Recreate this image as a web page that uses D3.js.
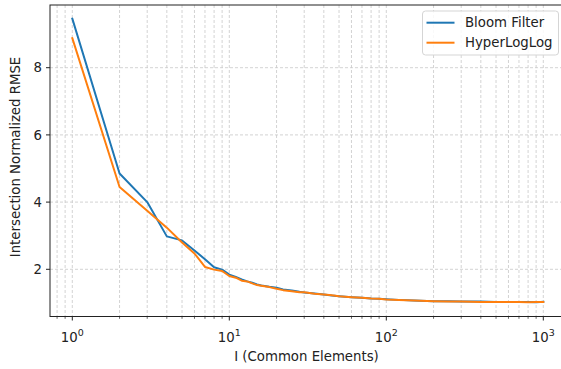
<!DOCTYPE html>
<html>
<head>
<meta charset="utf-8">
<script src="https://cdn.jsdelivr.net/npm/d3@7"></script>
<style>
  html, body { margin: 0; padding: 0; background: #fff; }
  svg { display: block; font-family: "DejaVu Sans", sans-serif; }
</style>
</head>
<body>
<svg id="chart" width="561" height="369"></svg>
<script>
// ---- data ----
const xValues = [1,2,3,4,5,6,7,8,9,10,11,12,13,14,15,16,18,20,22,25,28,30,35,40,45,50,60,70,80,90,100,120,150,200,250,300,400,500,600,700,800,900,1000];
const bloomFilter = [9.46,4.85,4.00,2.98,2.86,2.56,2.30,2.06,1.99,1.84,1.77,1.70,1.64,1.60,1.55,1.52,1.48,1.45,1.40,1.37,1.33,1.31,1.28,1.25,1.22,1.20,1.17,1.15,1.13,1.12,1.11,1.09,1.07,1.05,1.05,1.04,1.04,1.03,1.03,1.03,1.03,1.02,1.03];
const hyperLogLog = [8.88,4.45,3.74,3.24,2.80,2.47,2.07,1.99,1.95,1.80,1.75,1.66,1.64,1.58,1.53,1.51,1.47,1.42,1.38,1.35,1.32,1.32,1.27,1.25,1.23,1.20,1.17,1.15,1.13,1.12,1.10,1.09,1.07,1.05,1.04,1.04,1.03,1.03,1.03,1.03,1.02,1.03,1.03];
const seriesNames = ["Bloom Filter", "HyperLogLog"];
const seriesColors = ["#1f77b4", "#ff7f0e"];
const xTickExps = [0, 1, 2, 3];
const yTicks = [2, 4, 6, 8];
const xLabel = "I (Common Elements)";
const yLabel = "Intersection Normalized RMSE";

// ---- layout ----
const svg = d3.select("#chart");
const frame = { left: 50, right: 566, top: 5, bottom: 316.5 };
const x = d3.scaleLog().domain([1, 1000]).range([72.3, 543.3]);
const y = d3.scaleLinear().domain([2, 8]).range([269.3, 67.7]);

// clip
svg.append("defs").append("clipPath").attr("id", "clip")
  .append("rect").attr("x", frame.left).attr("y", frame.top)
  .attr("width", frame.right - frame.left).attr("height", frame.bottom - frame.top);

const grid = svg.append("g").attr("clip-path", "url(#clip)");
// x grid: major + minor
const xGridVals = [];
for (let e = -1; e <= 3; e++) {
  for (let m = 1; m <= 9; m++) {
    const v = m * Math.pow(10, e);
    const px = x(v);
    if (px > frame.left && px < frame.right) xGridVals.push(v);
  }
}
grid.selectAll("line.xg").data(xGridVals).enter().append("line")
  .attr("x1", d => x(d)).attr("x2", d => x(d))
  .attr("y1", frame.top).attr("y2", frame.bottom)
  .attr("stroke", "#c8c8c8").attr("stroke-width", 0.8)
  .attr("stroke-dasharray", "3,2");
grid.selectAll("line.yg").data(yTicks).enter().append("line")
  .attr("x1", frame.left).attr("x2", frame.right)
  .attr("y1", d => y(d)).attr("y2", d => y(d))
  .attr("stroke", "#c8c8c8").attr("stroke-width", 0.8)
  .attr("stroke-dasharray", "3,2");

// lines
const lineGen = d3.line().x(d => x(d[0])).y(d => y(d[1]));
const allSeries = [bloomFilter, hyperLogLog];
const plot = svg.append("g").attr("clip-path", "url(#clip)");
allSeries.forEach((s, i) => {
  plot.append("path")
    .datum(xValues.map((xv, j) => [xv, s[j]]))
    .attr("d", lineGen)
    .attr("fill", "none")
    .attr("stroke", seriesColors[i])
    .attr("stroke-width", 2)
    .attr("stroke-linejoin", "round")
    .attr("stroke-linecap", "square");
});

// spines
svg.append("rect")
  .attr("x", frame.left).attr("y", frame.top)
  .attr("width", frame.right - frame.left).attr("height", frame.bottom - frame.top)
  .attr("fill", "none").attr("stroke", "#222").attr("stroke-width", 1);

// x ticks
const tickG = svg.append("g");
xGridVals.forEach(v => {
  const major = xTickExps.some(e => Math.abs(v - Math.pow(10, e)) < 1e-9);
  tickG.append("line")
    .attr("x1", x(v)).attr("x2", x(v))
    .attr("y1", frame.bottom).attr("y2", frame.bottom + (major ? 4 : 2.3))
    .attr("stroke", "#222").attr("stroke-width", major ? 1 : 0.7);
});
xTickExps.forEach(e => {
  const t = tickG.append("text")
    .attr("x", x(Math.pow(10, e)))
    .attr("y", 342)
    .attr("text-anchor", "middle")
    .attr("font-size", "13.3px")
    .attr("fill", "#222");
  t.append("tspan").text("10");
  t.append("tspan").attr("dy", -6).attr("font-size", "9.5px").text(e);
});

// y ticks
yTicks.forEach(v => {
  tickG.append("line")
    .attr("x1", frame.left - 4).attr("x2", frame.left)
    .attr("y1", y(v)).attr("y2", y(v))
    .attr("stroke", "#222").attr("stroke-width", 1);
  tickG.append("text")
    .attr("x", frame.left - 8).attr("y", y(v))
    .attr("dy", "0.35em")
    .attr("text-anchor", "end")
    .attr("font-size", "13.3px")
    .attr("fill", "#222")
    .text(v);
});

// axis labels
svg.append("text")
  .attr("x", 306.5).attr("y", 361)
  .attr("text-anchor", "middle")
  .attr("font-size", "13.3px").attr("fill", "#222")
  .text(xLabel);
svg.append("text")
  .attr("transform", "translate(20,157) rotate(-90)")
  .attr("text-anchor", "middle")
  .attr("font-size", "13.3px").attr("fill", "#222")
  .text(yLabel);

// legend
const lg = svg.append("g");
lg.append("rect")
  .attr("x", 422.5).attr("y", 11).attr("width", 136).attr("height", 44)
  .attr("rx", 3).attr("ry", 3)
  .attr("fill", "rgba(255,255,255,0.85)")
  .attr("stroke", "#d5d5d5").attr("stroke-width", 1);
seriesNames.forEach((name, i) => {
  const cy = 22.7 + i * 20;
  lg.append("line")
    .attr("x1", 426.5).attr("x2", 454.5)
    .attr("y1", cy).attr("y2", cy)
    .attr("stroke", seriesColors[i]).attr("stroke-width", 2);
  lg.append("text")
    .attr("x", 465).attr("y", cy).attr("dy", "0.35em")
    .attr("font-size", "13.3px").attr("fill", "#222")
    .text(name);
});
</script>
</body>
</html>
